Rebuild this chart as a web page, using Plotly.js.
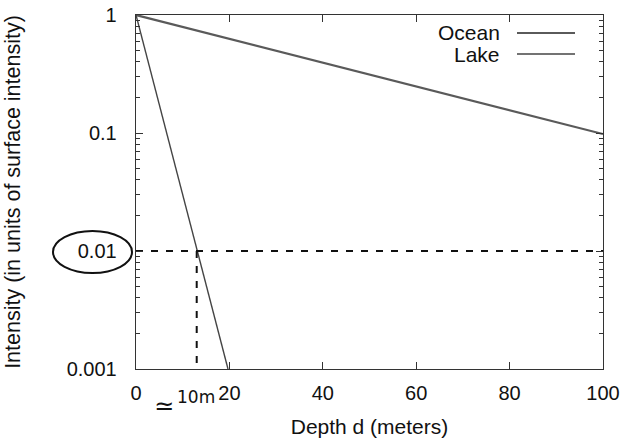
<!DOCTYPE html>
<html>
<head>
<meta charset="utf-8">
<script src="https://cdn.plot.ly/plotly-3.0.1.min.js"></script>
<style>html,body{margin:0;padding:0;background:#fff;}#chart{width:622px;height:438px;}</style>
</head>
<body>
<div id="chart"></div>
<script>
// Data
const oceanDepth = [0, 100];
const oceanIntensity = [1, 0.098];
const lakeDepth = [0, 19.7];
const lakeIntensity = [1, 0.001];
// hand-drawn guide lines
const guideHDepth = [0, 100];
const guideHIntensity = [0.01, 0.01];
const guideVDepth = [13, 13];
const guideVIntensity = [0.01, 0.001];
const xTickVals = [0, 20, 40, 60, 80, 100];
const yTickVals = [0.001, 0.01, 0.1, 1];
const yTickText = ['0.001', '0.01', '0.1', '1'];
const seriesNames = ['Ocean', 'Lake'];

const FONT = 'Liberation Sans, Arial, Helvetica, sans-serif';

const traces = [
  {x: oceanDepth, y: oceanIntensity, mode: 'lines', name: seriesNames[0],
   line: {color: '#5a5a5a', width: 2.2}},
  {x: lakeDepth, y: lakeIntensity, mode: 'lines', name: seriesNames[1],
   line: {color: '#444', width: 1.4}},
  {x: guideHDepth, y: guideHIntensity, mode: 'lines', showlegend: false,
   line: {color: '#111', width: 2, dash: '7px,8px'}},
  {x: guideVDepth, y: guideVIntensity, mode: 'lines', showlegend: false,
   line: {color: '#111', width: 2, dash: '7px,8px'}}
];

// pixel -> paper helpers (plot area 136..603 x, 15..369 y)
const L = 136, R = 603, T = 15, B = 369;
const px = v => (v - L) / (R - L);
const py = v => (B - v) / (B - T);

const layout = {
  width: 622, height: 438,
  margin: {l: L, r: 622 - R, t: T, b: 438 - B},
  paper_bgcolor: '#fff', plot_bgcolor: '#fff',
  showlegend: false,
  font: {family: FONT, size: 20, color: '#111'},
  xaxis: {
    range: [0, 100], tickvals: xTickVals, ticks: 'inside', ticklen: 7, tickcolor: '#333',
    showline: true, linecolor: '#333', linewidth: 1.3, mirror: 'ticks',
    showgrid: false, zeroline: false, ticklabelstandoff: 6,
    tickfont: {family: FONT, size: 20, color: '#111'},
    title: {text: 'Depth d (meters)', standoff: 18, font: {family: FONT, size: 21, color: '#111'}}
  },
  yaxis: {
    type: 'log', range: [-3, 0], tickvals: yTickVals, ticktext: yTickText,
    ticks: 'inside', ticklen: 7, tickcolor: '#333',
    minor: {ticks: 'inside', ticklen: 4, tickcolor: '#333', dtick: 'D1'},
    showline: true, linecolor: '#333', linewidth: 1.3, mirror: 'ticks',
    showgrid: false, zeroline: false, ticklabelstandoff: 14,
    tickfont: {family: FONT, size: 20, color: '#111'},
    title: {text: 'Intensity (in units of surface intensity)', standoff: 40,
            font: {family: FONT, size: 21.5, color: '#111'}}
  },
  shapes: [
    {type: 'line', xref: 'paper', yref: 'paper', x0: px(517), x1: px(575), y0: py(33), y1: py(33),
     line: {color: '#5a5a5a', width: 2.2}},
    {type: 'line', xref: 'paper', yref: 'paper', x0: px(517), x1: px(575), y0: py(54), y1: py(54),
     line: {color: '#444', width: 1.4}},
    {type: 'circle', xref: 'paper', yref: 'paper', x0: px(53), x1: px(132), y0: py(273), y1: py(231),
     line: {color: '#111', width: 2}}
  ],
  annotations: [
    {xref: 'paper', yref: 'paper', x: px(502), y: py(33), xanchor: 'right', yanchor: 'middle',
     text: seriesNames[0], showarrow: false, font: {family: FONT, size: 21, color: '#111'}},
    {xref: 'paper', yref: 'paper', x: px(502), y: py(55), xanchor: 'right', yanchor: 'middle',
     text: seriesNames[1], showarrow: false, font: {family: FONT, size: 21, color: '#111'}},
    {xref: 'paper', yref: 'paper', x: px(164), y: py(406), xanchor: 'center', yanchor: 'middle',
     text: '≃', showarrow: false, font: {family: 'DejaVu Sans', size: 24, color: '#111'}},
    {xref: 'paper', yref: 'paper', x: px(196), y: py(397), xanchor: 'center', yanchor: 'middle',
     text: '10m', showarrow: false, font: {family: 'DejaVu Sans', size: 17, color: '#111'}}
  ]
};

Plotly.newPlot('chart', traces, layout, {staticPlot: true, displayModeBar: false});
</script>
</body>
</html>
